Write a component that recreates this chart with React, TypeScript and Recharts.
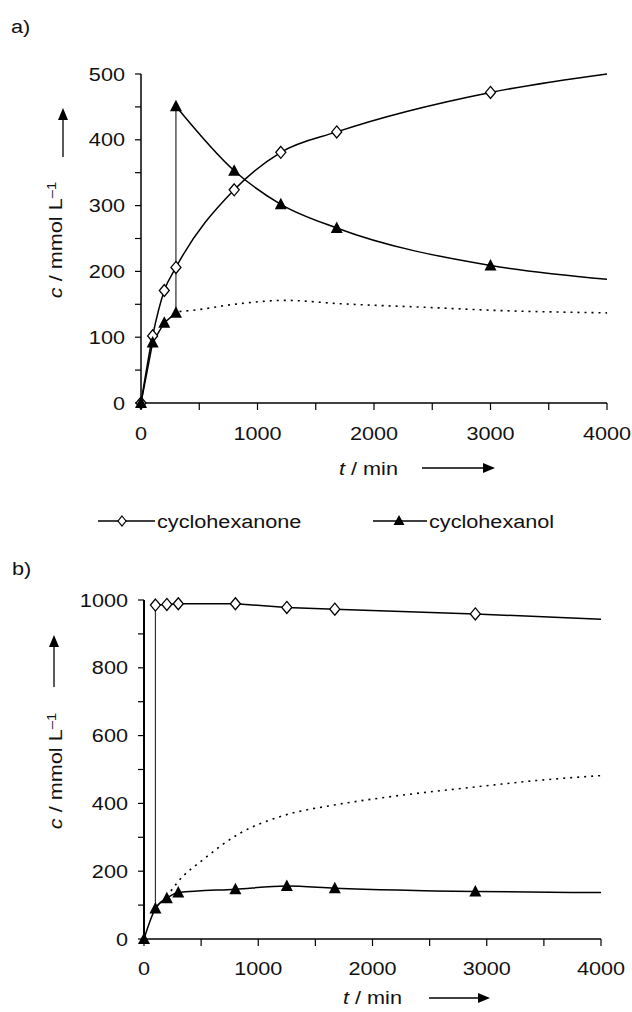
import { LineChart, Line, XAxis, YAxis } from 'recharts';

const FONT = '"Liberation Sans", Arial, Helvetica, sans-serif';
const STRETCH = 1.14;
const INK = '#111';

// x ticks shared by both panels (labels only on the thousands)
const xTicks = [0, 500, 1000, 1500, 2000, 2500, 3000, 3500, 4000];

// panel a) — y ticks, labels every 100
const yTicksA = [0, 50, 100, 150, 200, 250, 300, 350, 400, 450, 500];

// panel a) cyclohexanone (diamonds); last point has no marker
const tAnoneA = [0, 100, 200, 300, 800, 1200, 1680, 3000, 4000];
const cAnoneA = [0, 102, 171, 206, 324, 381, 412, 472, 500];

// panel a) cyclohexanol (triangles), before and after the addition at 300 min
const tAnolLowA = [0, 100, 200, 300];
const cAnolLowA = [0, 92, 122, 137];
const tAnolHighA = [300, 800, 1200, 1680, 3000, 4000];
const cAnolHighA = [451, 353, 302, 266, 209, 188];
const tJumpA = [300, 300];
const cJumpA = [137, 451];

// panel a) dotted curve
const tDotA = [330, 450, 800, 1240, 1700, 2500, 3000, 4000];
const cDotA = [139, 141, 150, 156, 151, 145, 141, 137];

// panel b) — y ticks, labels every 200
const yTicksB = [0, 100, 200, 300, 400, 500, 600, 700, 800, 900, 1000];

const tAnoneB = [100, 200, 300, 800, 1250, 1670, 2900, 4000];
const cAnoneB = [985, 987, 989, 989, 978, 973, 959, 943];
const tJumpB = [100, 100];
const cJumpB = [90, 985];

const tAnolB = [0, 100, 200, 300, 800, 1250, 1670, 2900, 4000];
const cAnolB = [0, 90, 120, 137, 147, 156, 150, 140, 137];

const tDotB = [200, 300, 520, 840, 1240, 1660, 2160, 2860, 3420, 4000];
const cDotB = [125, 170, 235, 312, 366, 395, 420, 447, 467, 482];

const zip = (t: number[], c: number[]) => t.map((v, i) => ({ t: v, c: c[i] }));

const renderDiamond = (p: any) => {
  const { cx, cy, payload, index } = p;
  if (cx == null || cy == null || payload.t >= 4000) return <g key={index} />;
  return (
    <path key={index} d={`M${cx},${cy - 6}L${cx + 5},${cy}L${cx},${cy + 6}L${cx - 5},${cy}Z`}
      fill="#fff" stroke="#000" strokeWidth={1.3} />
  );
};

const renderTriangle = (p: any) => {
  const { cx, cy, payload, index } = p;
  if (cx == null || cy == null || payload.t >= 4000) return <g key={index} />;
  return (
    <path key={index} d={`M${cx},${cy - 6.5}L${cx + 6},${cy + 5}L${cx - 6},${cy + 5}Z`} fill="#000" />
  );
};

const XTick = ({ x, y, payload }: any) => {
  if (payload.value % 1000 !== 0) return <g />;
  return (
    <text transform={`translate(${x},${y}) scale(${STRETCH},1)`} textAnchor="middle" dy="0.35em"
      fontSize={19} fontFamily={FONT} fill={INK}>{payload.value}</text>
  );
};

const makeYTick = (step: number) => ({ x, y, payload }: any) => {
  if (payload.value % step !== 0) return <g />;
  return (
    <text transform={`translate(${x},${y}) scale(${STRETCH},1)`} textAnchor="end" dy="0.35em"
      fontSize={19} fontFamily={FONT} fill={INK}>{payload.value}</text>
  );
};
const YTickA = makeYTick(100);
const YTickB = makeYTick(200);

const axisLine = { stroke: '#000', strokeWidth: 1.5 };
const tickLine = { stroke: '#000', strokeWidth: 1.2 };

function Txt({ x, y, children, anchor = 'start', rotate = false, size = 19 }: any) {
  const tr = rotate
    ? `translate(${x},${y}) rotate(-90) scale(${STRETCH},1)`
    : `translate(${x},${y}) scale(${STRETCH},1)`;
  return (
    <text transform={tr} textAnchor={anchor} fontSize={size} fontFamily={FONT} fill={INK}>{children}</text>
  );
}

function YTitle({ x, y }: { x: number; y: number }) {
  return (
    <Txt x={x} y={y} anchor="middle" rotate>
      <tspan fontStyle="italic">c</tspan> / mmol L<tspan dy="-0.5em" fontSize={13}>–1</tspan>
    </Txt>
  );
}

function UpArrow({ x, top, bottom }: { x: number; top: number; bottom: number }) {
  return (
    <g>
      <line x1={x} x2={x} y1={bottom} y2={top + 10} stroke="#000" strokeWidth={1.3} />
      <path d={`M${x},${top}L${x + 5},${top + 12}L${x - 5},${top + 12}Z`} fill="#000" />
    </g>
  );
}

function RightArrow({ y, left, right }: { y: number; left: number; right: number }) {
  return (
    <g>
      <line x1={left} x2={right - 10} y1={y} y2={y} stroke="#000" strokeWidth={1.3} />
      <path d={`M${right},${y}L${right - 12},${y - 5}L${right - 12},${y + 5}Z`} fill="#000" />
    </g>
  );
}

export default function App() {
  return (
    <div style={{ position: 'absolute', left: 0, top: 0, width: 632, height: 1012, background: '#fff' }}>
      <div style={{ position: 'absolute', left: 0, top: 0 }}>
        <LineChart width={632} height={500} margin={{ top: 74, right: 25, bottom: 37, left: 81 }}>
          <XAxis type="number" dataKey="t" domain={[0, 4000]} ticks={xTicks} height={60}
            axisLine={axisLine} tickLine={tickLine} tickSize={7} tickMargin={23} tick={<XTick />} />
          <YAxis type="number" dataKey="c" domain={[0, 500]} ticks={yTicksA} width={60}
            axisLine={axisLine} tickLine={tickLine} tickSize={6} tickMargin={10} tick={<YTickA />} />
          <Line data={zip(tDotA, cDotA)} dataKey="c" type="monotone" stroke="#000" strokeWidth={1.6}
            strokeDasharray="2 5" dot={false} isAnimationActive={false} />
          <Line data={zip(tJumpA, cJumpA)} dataKey="c" type="linear" stroke="#000" strokeWidth={1}
            dot={false} isAnimationActive={false} />
          <Line data={zip(tAnoneA, cAnoneA)} dataKey="c" type="monotone" stroke="#000" strokeWidth={1.5}
            dot={renderDiamond} isAnimationActive={false} />
          <Line data={zip(tAnolLowA, cAnolLowA)} dataKey="c" type="linear" stroke="#000" strokeWidth={1.5}
            dot={renderTriangle} isAnimationActive={false} />
          <Line data={zip(tAnolHighA, cAnolHighA)} dataKey="c" type="monotone" stroke="#000" strokeWidth={1.5}
            dot={renderTriangle} isAnimationActive={false} />
        </LineChart>
      </div>

      <div style={{ position: 'absolute', left: 0, top: 540 }}>
        <LineChart width={632} height={472} margin={{ top: 60, right: 31, bottom: 13, left: 84 }}>
          <XAxis type="number" dataKey="t" domain={[0, 4000]} ticks={xTicks} height={60}
            axisLine={axisLine} tickLine={tickLine} tickSize={7} tickMargin={22} tick={<XTick />} />
          <YAxis type="number" dataKey="c" domain={[0, 1000]} ticks={yTicksB} width={60}
            axisLine={{ stroke: '#000', strokeWidth: 2 }} tickLine={tickLine} tickSize={6} tickMargin={10}
            tick={<YTickB />} />
          <Line data={zip(tDotB, cDotB)} dataKey="c" type="monotone" stroke="#000" strokeWidth={1.6}
            strokeDasharray="2 5" dot={false} isAnimationActive={false} />
          <Line data={zip(tJumpB, cJumpB)} dataKey="c" type="linear" stroke="#333" strokeWidth={1.2}
            dot={false} isAnimationActive={false} />
          <Line data={zip(tAnoneB, cAnoneB)} dataKey="c" type="linear" stroke="#000" strokeWidth={1.5}
            dot={renderDiamond} isAnimationActive={false} />
          <Line data={zip(tAnolB, cAnolB)} dataKey="c" type="monotone" stroke="#000" strokeWidth={1.5}
            dot={renderTriangle} isAnimationActive={false} />
        </LineChart>
      </div>

      <svg width={632} height={1012} style={{ position: 'absolute', left: 0, top: 0, pointerEvents: 'none' }}>
        <Txt x={11} y={33}>a)</Txt>
        <Txt x={12} y={575}>b)</Txt>

        <UpArrow x={63} top={108} bottom={157} />
        <YTitle x={62} y={240} />
        <Txt x={339} y={475}><tspan fontStyle="italic">t</tspan> / min</Txt>
        <RightArrow y={468} left={422} right={495} />

        <UpArrow x={54} top={635} bottom={687} />
        <YTitle x={62} y={771} />
        <Txt x={343} y={1004}><tspan fontStyle="italic">t</tspan> / min</Txt>
        <RightArrow y={998} left={429} right={490} />

        <g>
          <line x1={98} x2={155} y1={521} y2={521} stroke="#000" strokeWidth={1.5} />
          <path d="M122,516L126,521L122,526L118,521Z" fill="#fff" stroke="#000" strokeWidth={1.2} />
          <Txt x={157} y={528}>cyclohexanone</Txt>
          <line x1={373} x2={427} y1={521} y2={521} stroke="#000" strokeWidth={1.5} />
          <path d="M399,515L404.5,525L393.5,525Z" fill="#000" />
          <Txt x={429} y={528}>cyclohexanol</Txt>
        </g>
      </svg>
    </div>
  );
}
